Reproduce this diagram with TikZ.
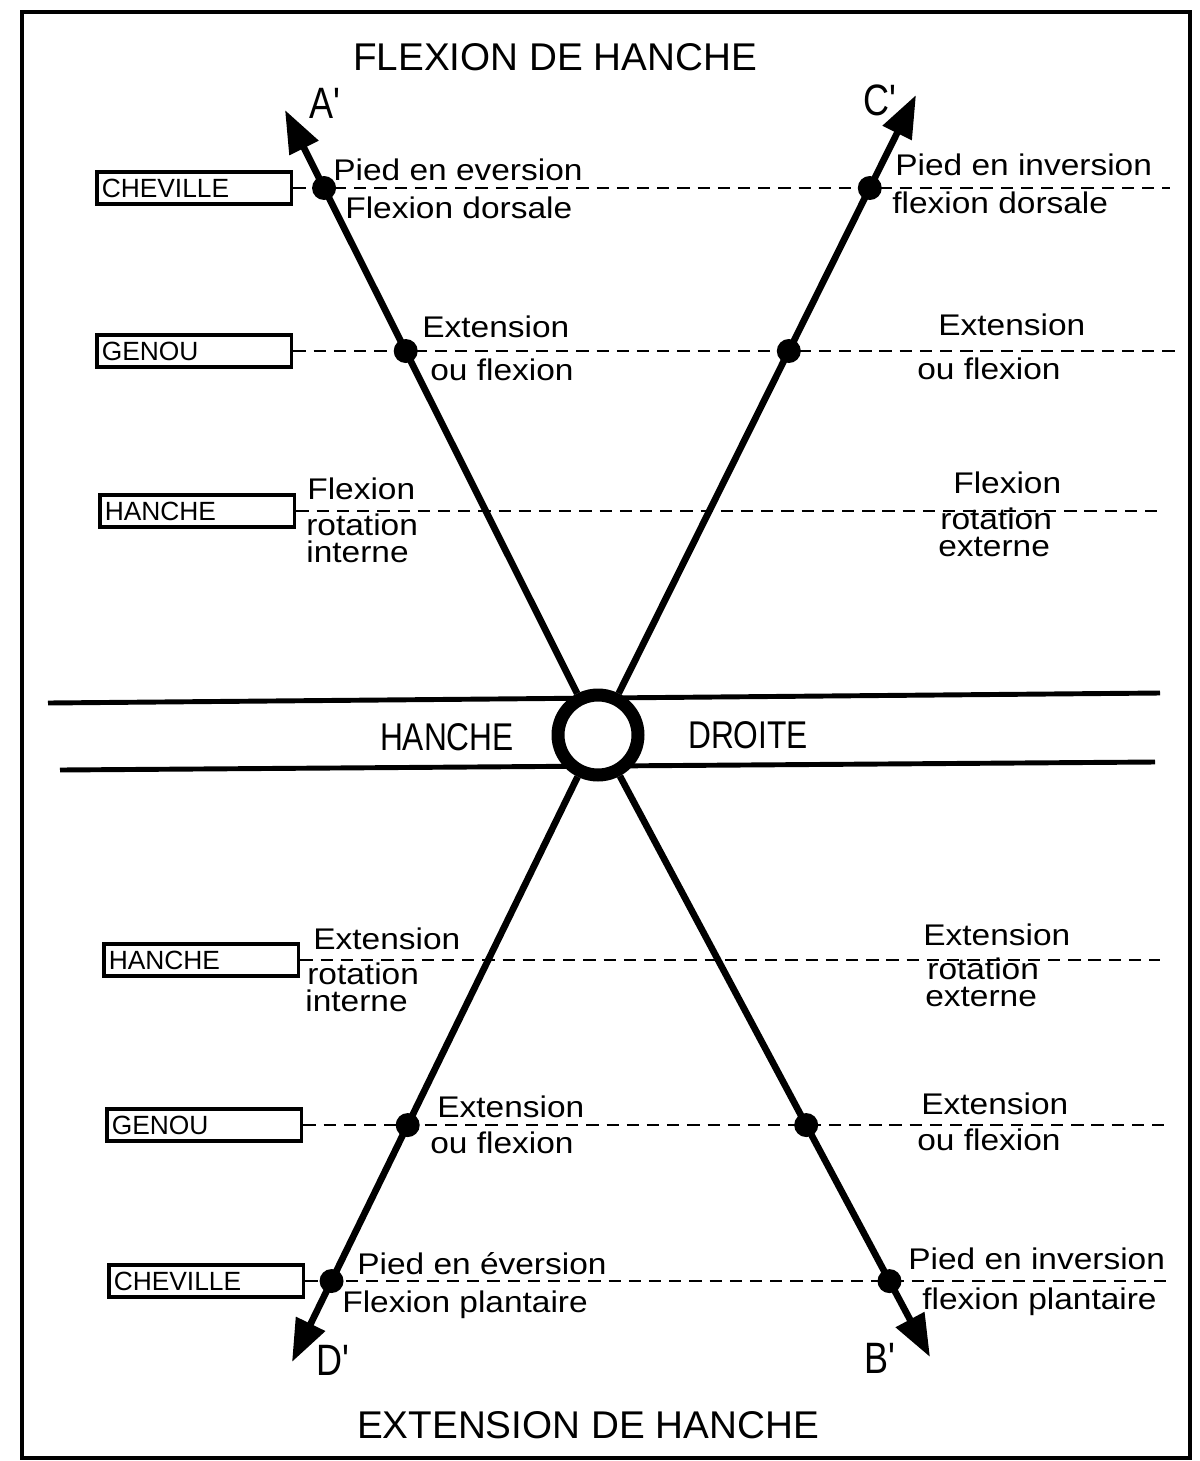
\documentclass[tikz,border=0pt]{standalone}
\usepackage{fontspec}
\setmainfont{Liberation Sans}
\newfontfamily\narrowfont[FakeStretch=0.82]{Liberation Sans}
\newfontfamily\wideFont[FakeStretch=1.12]{Liberation Sans}
\usetikzlibrary{arrows.meta}

\begin{document}
\begin{tikzpicture}[x=0.02cm,y=-0.02cm]
\tikzset{
    hipBox/.style={draw,line width=2pt,anchor=west,minimum width=3.9cm,minimum height=0.64cm,
        text width=3.7cm,align=left,inner xsep=0.1cm,inner ysep=0pt,font=\fontsize{15}{15}\selectfont},
    hipGuide/.style={line width=1.5pt,dash pattern=on 7pt off 4.5pt},
    hipLimb/.style={line width=3.8pt,-{Triangle[length=0.85cm,width=0.62cm]}},
    hipJoint/.style={circle,fill=black,minimum size=0.48cm,inner sep=0pt},
    hipMove/.style={anchor=base west,inner sep=0pt,font=\wideFont\fontsize{17}{17}\selectfont},
    hipTitle/.style={inner sep=0pt,font=\fontsize{22}{22}\selectfont},
    hipLetter/.style={inner sep=0pt,font=\narrowfont\fontsize{25}{25}\selectfont}
}
\useasboundingbox (0,0) rectangle (1200,1461);
% frame
\draw[line width=2.3pt] (22,12) rectangle (1190,1458);

% titles
\node[hipTitle] (tflex) at (555,57) {FLEXION DE HANCHE};
\node[hipTitle] (text) at (588,1425) {EXTENSION DE HANCHE};

% hip band
\draw[line width=2.8pt] (48,703) -- (1160,693);
\draw[line width=2.8pt] (60,770) -- (1155,762);
\node[circle,draw,fill=white,line width=0.26cm,minimum size=1.6cm] (hip) at (598,735) {};
\node[hipTitle,font=\narrowfont\fontsize{22}{22}\selectfont] (hanc) at (447,737) {HANCHE};
\node[hipTitle,font=\narrowfont\fontsize{22}{22}\selectfont] (droi) at (748,735) {DROITE};

% arrow tips
\coordinate (Atip) at (285,110);  % A'
\coordinate (Ctip) at (916,95);   % C'
\coordinate (Dtip) at (292,1362); % D'
\coordinate (Btip) at (930,1357); % B'

\draw[hipLimb] (hip) -- (Atip);
\draw[hipLimb] (hip) -- (Ctip);
\draw[hipLimb] (hip) -- (Dtip);
\draw[hipLimb] (hip) -- (Btip);

\node[hipLetter] (lA) at (325,103) {A'};
\node[hipLetter] (lC) at (880,100) {C'};
\node[hipLetter] (lD) at (333,1360) {D'};
\node[hipLetter] (lB) at (880,1358) {B'};

% joint boxes
\node[hipBox] (cheA) at (95,188) {CHEVILLE};
\node[hipBox] (genA) at (95,351) {GENOU};
\node[hipBox] (hanA) at (98,511) {HANCHE};
\node[hipBox] (hanB) at (102,960) {HANCHE};
\node[hipBox] (genB) at (105,1125) {GENOU};
\node[hipBox] (cheB) at (107,1281) {CHEVILLE};

% guide ends
\coordinate (cheAend) at (1170,188);
\coordinate (genAend) at (1175,351);
\coordinate (hanAend) at (1162,511);
\coordinate (hanBend) at (1160,960);
\coordinate (genBend) at (1168,1125);
\coordinate (cheBend) at (1172,1281);

\draw[hipGuide] (cheA.east) -- (cheAend);
\draw[hipGuide] (genA.east) -- (genAend);
\draw[hipGuide] (hanA.east) -- (hanAend);
\draw[hipGuide] (hanB.east) -- (hanBend);
\draw[hipGuide] (genB.east) -- (genBend);
\draw[hipGuide] (cheB.east) -- (cheBend);

% joints on the limbs
\node[hipJoint] (j1) at (intersection of hip.center--Atip and cheA.east--cheAend) {};
\node[hipJoint] (j2) at (intersection of hip.center--Ctip and cheA.east--cheAend) {};
\node[hipJoint] (j3) at (intersection of hip.center--Atip and genA.east--genAend) {};
\node[hipJoint] (j4) at (intersection of hip.center--Ctip and genA.east--genAend) {};
\node[hipJoint] (j5) at (intersection of hip.center--Dtip and genB.east--genBend) {};
\node[hipJoint] (j6) at (intersection of hip.center--Btip and genB.east--genBend) {};
\node[hipJoint] (j7) at (intersection of hip.center--Dtip and cheB.east--cheBend) {};
\node[hipJoint] (j8) at (intersection of hip.center--Btip and cheB.east--cheBend) {};

% movements, flexion side
\node[hipMove] (m1) at (333,180) {Pied en eversion};
\node[hipMove] (m2) at (345,218) {Flexion dorsale};
\node[hipMove] (m3) at (895,175) {Pied en inversion};
\node[hipMove] (m4) at (892,213) {flexion dorsale};
\node[hipMove] (m5) at (422,337) {Extension};
\node[hipMove] (m6) at (430,380) {ou flexion};
\node[hipMove] (m7) at (938,335) {Extension};
\node[hipMove] (m8) at (917,379) {ou flexion};
\node[hipMove] (m9) at (307,499) {Flexion};
\node[hipMove] (m10) at (306,535) {rotation};
\node[hipMove] (m11) at (306,562) {interne};
\node[hipMove] (m12) at (953,493) {Flexion};
\node[hipMove] (m13) at (940,529) {rotation};
\node[hipMove] (m14) at (938,556) {externe};

% movements, extension side
\node[hipMove] (n1) at (313,949) {Extension};
\node[hipMove] (n2) at (307,984) {rotation};
\node[hipMove] (n3) at (305,1011) {interne};
\node[hipMove] (n4) at (923,945) {Extension};
\node[hipMove] (n5) at (927,979) {rotation};
\node[hipMove] (n6) at (925,1006) {externe};
\node[hipMove] (n7) at (437,1117) {Extension};
\node[hipMove] (n8) at (430,1153) {ou flexion};
\node[hipMove] (n9) at (921,1114) {Extension};
\node[hipMove] (n10) at (917,1150) {ou flexion};
\node[hipMove] (n11) at (357,1274) {Pied en éversion};
\node[hipMove] (n12) at (342,1312) {Flexion plantaire};
\node[hipMove] (n13) at (908,1269) {Pied en inversion};
\node[hipMove] (n14) at (922,1309) {flexion plantaire};
\end{tikzpicture}
\end{document}
